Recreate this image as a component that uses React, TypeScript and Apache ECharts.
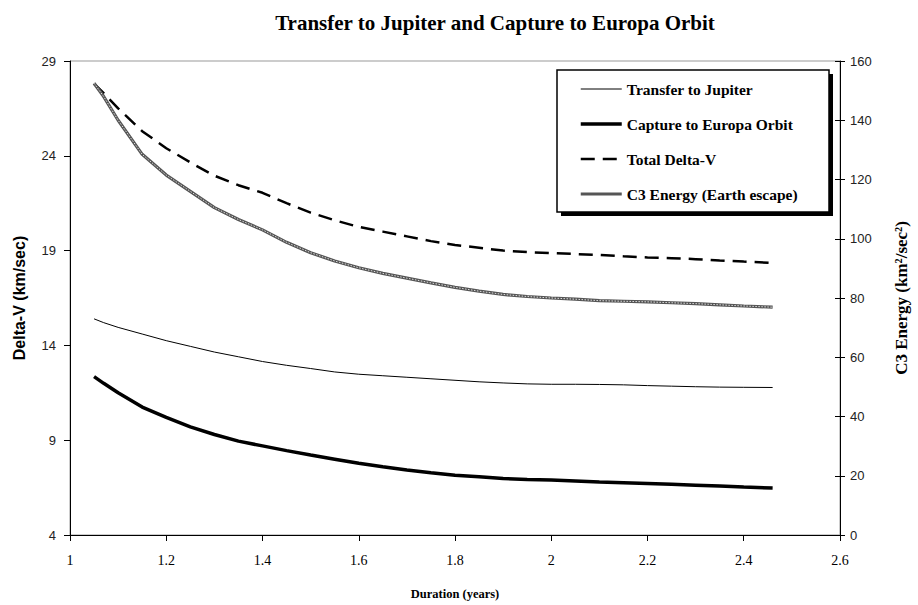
import React, { useEffect, useRef } from "react";
import * as echarts from "echarts";

const durations = [1.05, 1.07, 1.1, 1.15, 1.2, 1.25, 1.3, 1.35, 1.4, 1.45, 1.5, 1.55, 1.6, 1.65, 1.7, 1.75, 1.8, 1.85, 1.9, 1.95, 2.0, 2.05, 2.1, 2.15, 2.2, 2.25, 2.3, 2.35, 2.4, 2.46];
const transferToJupiter = [15.4, 15.2, 14.95, 14.6, 14.25, 13.95, 13.65, 13.4, 13.15, 12.95, 12.78, 12.6, 12.48, 12.4, 12.32, 12.24, 12.16, 12.08, 12.02, 11.97, 11.95, 11.95, 11.94, 11.92, 11.88, 11.85, 11.82, 11.8, 11.79, 11.78];
const captureToEuropa = [12.35, 12.0, 11.5, 10.75, 10.2, 9.7, 9.3, 8.95, 8.7, 8.45, 8.22, 8.0, 7.78, 7.6, 7.43, 7.28, 7.15, 7.07, 6.98, 6.93, 6.9, 6.85, 6.8, 6.76, 6.72, 6.68, 6.63, 6.58, 6.53, 6.48];
const totalDeltaV = [27.8, 27.3, 26.5, 25.3, 24.4, 23.65, 22.95, 22.45, 22.05, 21.5, 21.0, 20.6, 20.25, 20.0, 19.75, 19.5, 19.3, 19.15, 19.0, 18.92, 18.87, 18.82, 18.77, 18.7, 18.64, 18.6, 18.55, 18.48, 18.42, 18.35];
const c3Energy = [152.5, 148, 140, 128.5, 121.5, 116, 110.5, 106.5, 103, 98.8, 95.3, 92.5, 90.2, 88.3, 86.7, 85.1, 83.6, 82.3, 81.2, 80.5, 80.0, 79.6, 79.1, 78.9, 78.7, 78.4, 78.1, 77.7, 77.3, 76.9];

const leftTicks = [4, 9, 14, 19, 24, 29];
const seriesNames = ["Transfer to Jupiter", "Capture to Europa Orbit", "Total Delta-V", "C3 Energy (Earth escape)"];

const SERIF = "'Liberation Serif', 'Times New Roman', serif";
const SANS = "'Liberation Sans', Arial, sans-serif";

const pairs = (ys: number[]) => durations.map((x, i) => [x, ys[i]]);

export default function App() {
  const ref = useRef<HTMLDivElement>(null);
  useEffect(() => {
    document.body.style.margin = "0";
    const chart = echarts.init(ref.current!, undefined, { renderer: "svg" });
    const option: any = {
      animation: false,
      backgroundColor: "#fff",
      graphic: [
        {
          type: "text",
          x: 495,
          y: 23,
          z: 0,
          style: {
            text: "Transfer to Jupiter and Capture to Europa Orbit",
            fontFamily: SERIF,
            fontWeight: "bold",
            fontSize: 21,
            fill: "#000",
            textAlign: "center",
            textVerticalAlign: "middle",
          },
        },
        {
          type: "rect",
          z: 0,
          shape: { x: 561, y: 74, width: 272, height: 142 },
          style: { fill: "#000" },
        },
        {
          type: "rect",
          z: 0,
          shape: { x: 557, y: 70, width: 272, height: 142 },
          style: { fill: "#fff", stroke: "#000", lineWidth: 1.5 },
        },
      ],
      grid: {
        left: 70,
        right: 76,
        top: 61,
        bottom: 70,
        show: true,
        borderColor: "#999",
        borderWidth: 1,
        backgroundColor: "transparent",
      },
      legend: {
        data: seriesNames,
        orient: "vertical",
        left: 579,
        top: 81,
        z: 10,
        itemWidth: 41,
        itemHeight: 14,
        itemGap: 19,
        padding: 0,
        itemStyle: { opacity: 0 },
        lineStyle: { width: "inherit", type: "inherit" },
        textStyle: { fontFamily: SERIF, fontWeight: "bold", fontSize: 15.5, color: "#000" },
      },
      xAxis: {
        type: "value",
        min: 1,
        max: 2.6,
        interval: 0.2,
        name: "Duration (years)",
        nameLocation: "middle",
        nameGap: 52,
        nameTextStyle: { fontFamily: SERIF, fontWeight: "bold", fontSize: 12.5, color: "#000" },
        axisLine: { show: true, lineStyle: { color: "#000", width: 1 } },
        axisTick: { show: true, length: 6, lineStyle: { color: "#000" } },
        axisLabel: {
          fontFamily: SERIF,
          fontSize: 14,
          color: "#000",
          margin: 18,
          formatter: (v: number) => String(Math.round(v * 10) / 10),
        },
        splitLine: { show: false },
      },
      yAxis: [
        {
          type: "value",
          min: 4,
          max: 29,
          position: "left",
          name: "Delta-V (km/sec)",
          nameLocation: "middle",
          nameRotate: 90,
          nameGap: 43,
          nameTextStyle: { fontFamily: SANS, fontWeight: "bold", fontSize: 16, color: "#000" },
          axisLine: { show: true, lineStyle: { color: "#000", width: 1 } },
          axisTick: { show: true, length: 6, customValues: leftTicks, lineStyle: { color: "#000" } },
          axisLabel: { fontFamily: SANS, fontSize: 13, color: "#222", margin: 14, customValues: leftTicks },
          splitLine: { show: false },
        },
        {
          type: "value",
          min: 0,
          max: 160,
          interval: 20,
          position: "right",
          name: "C3 Energy (km²/sec²)",
          nameLocation: "middle",
          nameRotate: 90,
          nameGap: 53,
          nameTextStyle: { fontFamily: SERIF, fontWeight: "bold", fontSize: 17, color: "#000" },
          axisLine: { show: true, lineStyle: { color: "#000", width: 1 } },
          axisTick: { show: true, length: 5, lineStyle: { color: "#000" } },
          axisLabel: { fontFamily: SANS, fontSize: 13, color: "#222", margin: 10 },
          splitLine: { show: false },
        },
        {
          type: "value",
          min: 0,
          max: 160,
          interval: 20,
          position: "right",
          axisLine: { show: false },
          axisTick: { show: true, inside: true, length: 5, lineStyle: { color: "#000" } },
          axisLabel: { show: false },
          splitLine: { show: false },
        },
      ],
      series: [
        {
          name: seriesNames[0],
          type: "line",
          yAxisIndex: 0,
          symbol: "none",
          data: pairs(transferToJupiter),
          lineStyle: { color: "#000", width: 1 },
          itemStyle: { color: "#000" },
        },
        {
          name: seriesNames[1],
          type: "line",
          yAxisIndex: 0,
          symbol: "none",
          data: pairs(captureToEuropa),
          lineStyle: { color: "#000", width: 3.5 },
          itemStyle: { color: "#000" },
        },
        {
          name: seriesNames[2],
          type: "line",
          yAxisIndex: 0,
          symbol: "none",
          data: pairs(totalDeltaV),
          lineStyle: { color: "#000", width: 2.5, type: [14, 8] },
          itemStyle: { color: "#000" },
        },
        {
          name: seriesNames[3],
          type: "line",
          yAxisIndex: 1,
          symbol: "none",
          data: pairs(c3Energy),
          lineStyle: { color: "#555", width: 3.2 },
          itemStyle: { color: "#555" },
        },
        {
          name: "c3-texture",
          type: "line",
          yAxisIndex: 1,
          symbol: "none",
          silent: true,
          data: pairs(c3Energy),
          lineStyle: { color: "#ddd", width: 1, type: [1.5, 1.5] },
          itemStyle: { color: "#ddd" },
        },
      ],
    };
    chart.setOption(option);
    return () => chart.dispose();
  }, []);
  return <div ref={ref} style={{ width: 918, height: 605 }} />;
}
